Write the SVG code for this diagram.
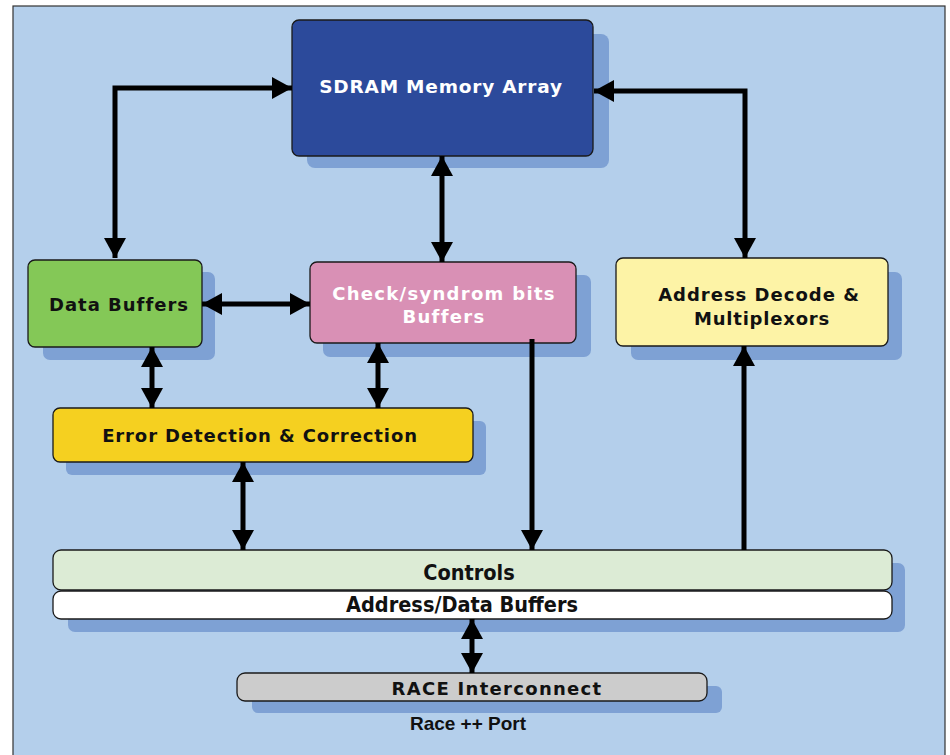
<svg xmlns="http://www.w3.org/2000/svg" width="950" height="755" viewBox="0 0 950 755">
<defs>
<marker id="ah" viewBox="0 0 20 22" refX="20" refY="11" markerWidth="20" markerHeight="22" markerUnits="userSpaceOnUse" orient="auto-start-reverse">
<path d="M0,0 L20,11 L0,22 Z" fill="#000"/>
</marker>
</defs>
<style>
.sh{fill:#7ea1d4}
.box{stroke:#1a1a1a;stroke-width:1.3}
.t{font-family:"DejaVu Sans",Verdana,sans-serif;font-weight:bold;text-anchor:middle;letter-spacing:1px}
.tc{font-family:"DejaVu Sans Condensed","DejaVu Sans",sans-serif;font-weight:bold;text-anchor:middle}
.c{fill:none;stroke:#000;stroke-width:5}
</style>
<rect x="0" y="0" width="950" height="755" fill="#fff"/>
<rect x="13" y="6" width="932" height="760" fill="#b4cfeb" stroke="#333" stroke-width="1.2"/>

<g id="sdram">
<rect class="sh" x="307" y="34" width="302" height="134" rx="8"/>
<rect class="box" x="292" y="20" width="301" height="136" rx="7" fill="#2c4a9b"/>
<text class="t" x="441" y="93" font-size="18.5" fill="#fff" style="letter-spacing:0.8px">SDRAM Memory Array</text>
</g>

<g id="databuffers">
<rect class="sh" x="43" y="272" width="172" height="88" rx="7"/>
<rect class="box" x="28" y="260" width="174" height="87" rx="7" fill="#84c857"/>
<text class="t" x="119" y="311" font-size="18" fill="#111">Data Buffers</text>
</g>

<g id="checkbuffers">
<rect class="sh" x="323" y="275" width="268" height="82" rx="7"/>
<rect class="box" x="310" y="262" width="266" height="81" rx="7" fill="#d990b5"/>
<text class="t" x="444" y="300" font-size="18" fill="#fff" style="letter-spacing:1.3px">Check/syndrom bits</text>
<text class="t" x="444" y="323" font-size="18" fill="#fff" style="letter-spacing:1.3px">Buffers</text>
</g>

<g id="addrdecode">
<rect class="sh" x="631" y="272" width="271" height="88" rx="7"/>
<rect class="box" x="616" y="258" width="272" height="88" rx="7" fill="#fdf3a6"/>
<text class="t" x="759" y="301" font-size="18" fill="#111">Address Decode &amp;</text>
<text class="t" x="762" y="325" font-size="18" fill="#111" style="letter-spacing:0.8px">Multiplexors</text>
</g>

<g id="errordetect">
<rect class="sh" x="66" y="421" width="420" height="54" rx="6"/>
<rect class="box" x="53" y="408" width="420" height="54" rx="7" fill="#f5d020"/>
<text class="t" x="260" y="442" font-size="18" fill="#111" style="letter-spacing:0.9px">Error Detection &amp; Correction</text>
</g>

<g id="controls">
<rect class="sh" x="68" y="563" width="837" height="69" rx="7"/>
<rect class="box" x="53" y="550" width="839" height="40" rx="8" fill="#dcebd5"/>
<text class="tc" x="469" y="580" font-size="21.5" fill="#111">Controls</text>
</g>

<g id="addrdatabuffers">
<rect class="box" x="53" y="591" width="839" height="28" rx="8" fill="#fff"/>
<text class="tc" x="462" y="612" font-size="21.5" fill="#111">Address/Data Buffers</text>
</g>

<g id="race">
<rect class="sh" x="252" y="686" width="470" height="27" rx="6"/>
<rect class="box" x="237" y="673" width="470" height="28" rx="8" fill="#cccccc"/>
<text class="t" x="497" y="695" font-size="18" fill="#111" style="letter-spacing:1.3px">RACE Interconnect</text>
</g>

<g id="port">
<text x="468" y="730" font-family="'Liberation Sans',Arial,sans-serif" font-weight="bold" font-size="19" text-anchor="middle" fill="#111">Race ++ Port</text>
</g>

<g id="connectors">
<path class="c" d="M115,258 V88 H292" marker-start="url(#ah)" marker-end="url(#ah)"/>
<path class="c" d="M594,91 H745 V258" marker-start="url(#ah)" marker-end="url(#ah)"/>
<path class="c" d="M442,156 V262" marker-start="url(#ah)" marker-end="url(#ah)"/>
<path class="c" d="M202,304 H310" marker-start="url(#ah)" marker-end="url(#ah)"/>
<path class="c" d="M152,347 V408" marker-start="url(#ah)" marker-end="url(#ah)"/>
<path class="c" d="M378,343 V408" marker-start="url(#ah)" marker-end="url(#ah)"/>
<path class="c" d="M243,462 V550" marker-start="url(#ah)" marker-end="url(#ah)"/>
<path class="c" d="M532,339 V550" marker-end="url(#ah)"/>
<path class="c" d="M744,550 V346" marker-end="url(#ah)"/>
<path class="c" d="M472,619 V673" marker-start="url(#ah)" marker-end="url(#ah)"/>
</g>
</svg>
